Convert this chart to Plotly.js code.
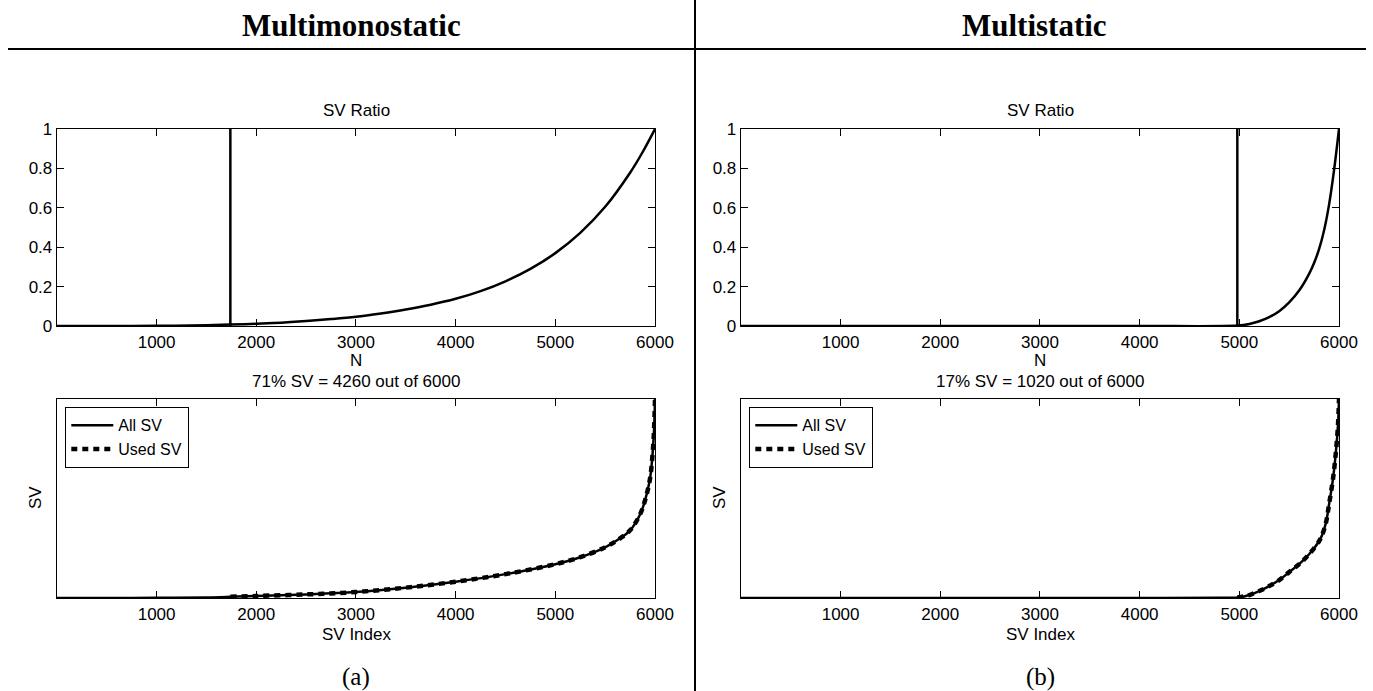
<!DOCTYPE html>
<html>
<head>
<meta charset="utf-8">
<script src="https://cdn.plot.ly/plotly-3.0.1.min.js"></script>
<style>html,body{margin:0;padding:0;background:#fff;}#chart{width:1373px;height:691px;}</style>
</head>
<body>
<div id="chart"></div>
<script>
// ---------- data ----------
const totalSV = 6000;
const usedCountA = 4260;   // 71% SV = 4260 out of 6000
const usedCountB = 1020;   // 17% SV = 1020 out of 6000
const xTicks = [1000, 2000, 3000, 4000, 5000, 6000];
const yTicksRatio = [0, 0.2, 0.4, 0.6, 0.8, 1];

// (a) Multimonostatic - SV ratio
const ratioA_x = [1, 500, 1000, 1500, 1740, 2000, 2250, 2500, 2750, 3000, 3250, 3500, 3750, 4000, 4250, 4500, 4750, 5000, 5250, 5500, 5750, 5875, 6000];
const ratioA_y = [0, 0, 0.001, 0.004, 0.007, 0.011, 0.017, 0.025, 0.035, 0.047, 0.064, 0.084, 0.108, 0.138, 0.177, 0.227, 0.290, 0.370, 0.473, 0.605, 0.778, 0.882, 1.000];
// (a) sorted singular values (normalised)
const svA_x = [1, 500, 1000, 1500, 1740, 2000, 2500, 3000, 3500, 4000, 4500, 5000, 5250, 5500, 5650, 5750, 5850, 5900, 5950, 5975, 5990, 6000];
const svA_y = [0, 0, 0.001, 0.003, 0.006, 0.010, 0.018, 0.030, 0.052, 0.082, 0.120, 0.170, 0.205, 0.255, 0.300, 0.340, 0.420, 0.490, 0.600, 0.720, 0.840, 1.000];

// (b) Multistatic - SV ratio
const ratioB_x = [1, 1000, 2000, 3000, 4000, 4980, 5100, 5200, 5300, 5400, 5500, 5600, 5700, 5750, 5800, 5850, 5900, 5950, 6000];
const ratioB_y = [0, 0, 0, 0, 0, 0.002, 0.010, 0.024, 0.045, 0.075, 0.120, 0.180, 0.265, 0.320, 0.390, 0.485, 0.615, 0.790, 1.000];
// (b) sorted singular values (normalised)
const svB_x = [1, 1000, 2000, 3000, 4000, 4800, 4980, 5050, 5100, 5200, 5300, 5400, 5500, 5600, 5700, 5800, 5830, 5870, 5900, 5940, 5970, 5990, 6000];
const svB_y = [0, 0, 0, 0, 0, 0.001, 0.003, 0.008, 0.015, 0.035, 0.060, 0.090, 0.130, 0.170, 0.220, 0.285, 0.315, 0.380, 0.470, 0.600, 0.740, 0.870, 1.000];

const titles = ["Multimonostatic", "Multistatic"];
const captions = ["(a)", "(b)"];
const subtitles = ["71% SV = 4260 out of 6000", "17% SV = 1020 out of 6000"];

// ---------- build ----------
const thrA = totalSV - usedCountA;
const thrB = totalSV - usedCountB;
function usedPart(xs, ys, thr) {
  const ux = [], uy = [];
  xs.forEach((x, i) => { if (x >= thr) { ux.push(x); uy.push(ys[i]); } });
  return [ux, uy];
}
const [usedA_x, usedA_y] = usedPart(svA_x, svA_y, thrA);
const [usedB_x, usedB_y] = usedPart(svB_x, svB_y, thrB);

const K = 'black';
const solid = {color: K, width: 2.5, shape: 'spline', smoothing: 1};
const dashed = {color: K, width: 4.5, dash: '6px,5px', shape: 'spline', smoothing: 1};

const traces = [
  {x: ratioA_x, y: ratioA_y, xaxis: 'x', yaxis: 'y', mode: 'lines', line: solid, showlegend: false, name: 'SV ratio'},
  {x: [thrA, thrA], y: [0, 1], xaxis: 'x', yaxis: 'y', mode: 'lines', line: {color: K, width: 2.5}, showlegend: false, name: 'threshold'},
  {x: ratioB_x, y: ratioB_y, xaxis: 'x2', yaxis: 'y2', mode: 'lines', line: solid, showlegend: false, name: 'SV ratio'},
  {x: [thrB, thrB], y: [0, 1], xaxis: 'x2', yaxis: 'y2', mode: 'lines', line: {color: K, width: 2.5}, showlegend: false, name: 'threshold'},
  {x: svA_x, y: svA_y, xaxis: 'x3', yaxis: 'y3', mode: 'lines', line: solid, name: 'All SV', legend: 'legend'},
  {x: usedA_x, y: usedA_y, xaxis: 'x3', yaxis: 'y3', mode: 'lines', line: dashed, name: 'Used SV', legend: 'legend'},
  {x: svB_x, y: svB_y, xaxis: 'x4', yaxis: 'y4', mode: 'lines', line: solid, name: 'All SV', legend: 'legend2'},
  {x: usedB_x, y: usedB_y, xaxis: 'x4', yaxis: 'y4', mode: 'lines', line: dashed, name: 'Used SV', legend: 'legend2'}
];

const W = 1373, H = 691;
const px = v => v / W;
const py = v => 1 - v / H;
const SANS = 'Liberation Sans, Arial, Helvetica, sans-serif';
const SERIF = 'Liberation Serif, Times New Roman, serif';
const FS = 17;
const tickFont = {family: SANS, size: FS, color: K};

function xax(domain, anchor) {
  return {domain: domain, anchor: anchor, range: [1, 6000], tickvals: xTicks, ticks: 'inside', ticklen: 7,
    tickcolor: K, tickwidth: 1, showline: true, linecolor: K, linewidth: 1.3, mirror: 'ticks',
    showgrid: false, zeroline: false, tickfont: tickFont, fixedrange: true};
}
function yaxRatio(domain, anchor) {
  return {domain: domain, anchor: anchor, range: [0, 1], tickvals: yTicksRatio, ticks: 'inside', ticklen: 7,
    tickcolor: K, tickwidth: 1, showline: true, linecolor: K, linewidth: 1.3, mirror: 'ticks',
    showgrid: false, zeroline: false, tickfont: tickFont, fixedrange: true, ticklabelstandoff: 0};
}
function yaxSV(domain, anchor) {
  return {domain: domain, anchor: anchor, range: [0, 1], showticklabels: false, ticks: '',
    showline: true, linecolor: K, linewidth: 1.3, mirror: true, showgrid: false, zeroline: false, fixedrange: true};
}

const dxL = [px(57), px(655)], dxR = [px(741), px(1339)];
const dyT = [py(326), py(129)], dyB = [py(598), py(399)];

const ann = [];
function txt(t, x, y, size, extra) {
  ann.push(Object.assign({text: t, x: x, y: y, xref: 'paper', yref: 'paper', showarrow: false,
    xanchor: 'center', yanchor: 'middle', font: {family: SANS, size: size, color: K}}, extra || {}));
}
const cL = (57 + 655) / 2, cR = (741 + 1339) / 2;
[cL, cR].forEach((c, i) => {
  txt('SV Ratio', px(c), py(110), FS);
  txt('N', px(c), py(360), FS);
  txt(subtitles[i], px(c), py(381), FS);
  txt('SV Index', px(c), py(634), FS);
  txt(captions[i], px(c), py(677), 25, {font: {family: SERIF, size: 25, color: K}});
});
txt('SV', px(35), py(498), FS, {textangle: -90});
txt('SV', px(719), py(498), FS, {textangle: -90});
txt(titles[0], px(351), py(25), 31, {font: {family: SERIF, size: 31, color: K, weight: 'bold'}});
txt(titles[1], px(1034), py(25), 31, {font: {family: SERIF, size: 31, color: K, weight: 'bold'}});

const legendStyle = (x) => ({x: x, y: py(407), xref: 'paper', yref: 'paper', xanchor: 'left', yanchor: 'top',
  bgcolor: 'white', bordercolor: K, borderwidth: 1.3, font: {family: SANS, size: 16, color: K},
  tracegroupgap: 0, itemwidth: 42});

const layout = {
  width: W, height: H, margin: {l: 0, r: 0, t: 0, b: 0},
  paper_bgcolor: 'white', plot_bgcolor: 'white',
  xaxis: xax(dxL, 'y'), yaxis: yaxRatio(dyT, 'x'),
  xaxis2: xax(dxR, 'y2'), yaxis2: yaxRatio(dyT, 'x2'),
  xaxis3: xax(dxL, 'y3'), yaxis3: yaxSV(dyB, 'x3'),
  xaxis4: xax(dxR, 'y4'), yaxis4: yaxSV(dyB, 'x4'),
  legend: legendStyle(px(65)),
  legend2: legendStyle(px(749)),
  annotations: ann,
  shapes: [
    {type: 'line', xref: 'paper', yref: 'paper', x0: px(8), x1: px(1366), y0: py(49), y1: py(49), line: {color: K, width: 2}},
    {type: 'line', xref: 'paper', yref: 'paper', x0: px(695), x1: px(695), y0: 0, y1: 1, line: {color: K, width: 2}}
  ]
};

Plotly.newPlot('chart', traces, layout, {displayModeBar: false, staticPlot: true});
</script>
</body>
</html>
